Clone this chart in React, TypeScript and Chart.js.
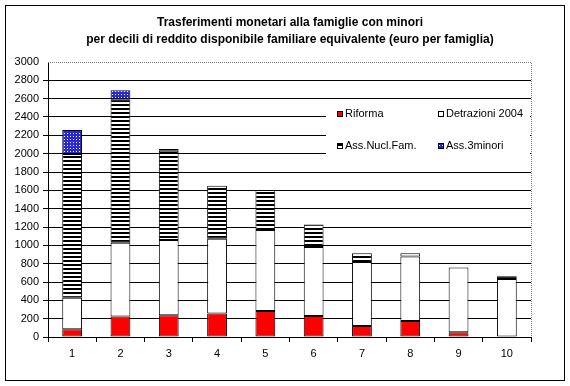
import React, { useEffect, useRef } from "react";
import { Chart, registerables } from "chart.js";

Chart.register(...registerables);

const categories = ["1", "2", "3", "4", "5", "6", "7", "8", "9", "10"];
const riforma = [84, 225, 236, 257, 283, 228, 120, 174, 51, 0];
const detrazioni2004 = [343, 804, 822, 815, 883, 753, 698, 703, 706, 634];
const assNuclFam = [1570, 1565, 975, 577, 439, 247, 95, 36, 0, 29];
const ass3minori = [261, 98, 18, 0, 0, 0, 0, 0, 0, 0];
const titleLines = [
  "Trasferimenti monetari alla famiglie con minori",
  "per decili di reddito disponibile familiare equivalente (euro per famiglia)",
];
const legendLabels = ["Riforma", "Detrazioni 2004", "Ass.Nucl.Fam.", "Ass.3minori"];

const FONT = "'Liberation Sans', Arial, sans-serif";

function makeStripes(): CanvasPattern | string {
  const c = document.createElement("canvas");
  c.width = 4;
  c.height = 4;
  const g = c.getContext("2d");
  if (!g) return "#000";
  g.fillStyle = "#fff";
  g.fillRect(0, 0, 4, 4);
  g.fillStyle = "#000";
  g.fillRect(0, 0, 4, 2);
  return g.createPattern(c, "repeat") || "#000";
}

function makeDots(): CanvasPattern | string {
  const c = document.createElement("canvas");
  c.width = 3;
  c.height = 3;
  const g = c.getContext("2d");
  if (!g) return "#22c";
  g.fillStyle = "#2828d8";
  g.fillRect(0, 0, 3, 3);
  g.fillStyle = "#ffffff";
  g.fillRect(1, 1, 1, 1);
  return g.createPattern(c, "repeat") || "#22c";
}

export default function App() {
  const ref = useRef<HTMLCanvasElement | null>(null);

  useEffect(() => {
    document.body.style.margin = "0";
    const canvas = ref.current;
    if (!canvas) return;
    const stripes = makeStripes();
    const dots = makeDots();
    const fills: any[] = ["#ff0000", "#ffffff", stripes, dots];

    const decor = {
      id: "decor",
      beforeDraw(chart: any) {
        const ctx = chart.ctx;
        ctx.save();
        ctx.fillStyle = "#fff";
        ctx.fillRect(0, 0, chart.width, chart.height);
        ctx.restore();
      },
      afterDatasetsDraw(chart: any) {
        const ctx = chart.ctx;
        const a = chart.chartArea;
        ctx.save();
        // legend box
        ctx.fillStyle = "#fff";
        ctx.fillRect(326, 100, a.right - 326 - 1, 70);
        const items = [
          { x: 337, y: 114 },
          { x: 438, y: 114 },
          { x: 337, y: 146 },
          { x: 438, y: 146 },
        ];
        ctx.font = `11px ${FONT}`;
        ctx.textBaseline = "middle";
        ctx.textAlign = "left";
        items.forEach((it, i) => {
          ctx.fillStyle = fills[i];
          ctx.fillRect(it.x, it.y - 3, 5, 5);
          ctx.strokeStyle = "#000";
          ctx.lineWidth = 1;
          ctx.strokeRect(it.x + 0.5, it.y - 2.5, 5, 5);
          ctx.fillStyle = "#000";
          ctx.fillText(legendLabels[i], it.x + 8, it.y);
        });
        ctx.restore();
      },
      afterDraw(chart: any) {
        const ctx = chart.ctx;
        const a = chart.chartArea;
        ctx.save();
        // plot area dotted border (top and right)
        ctx.strokeStyle = "#808080";
        ctx.lineWidth = 1;
        ctx.setLineDash([1, 1]);
        ctx.beginPath();
        ctx.moveTo(a.left, Math.round(a.top) + 0.5);
        ctx.lineTo(Math.round(a.right) + 0.5, Math.round(a.top) + 0.5);
        ctx.lineTo(Math.round(a.right) + 0.5, a.bottom);
        ctx.stroke();
        ctx.setLineDash([]);
        // outer frame
        ctx.strokeStyle = "#000";
        ctx.strokeRect(5.5, 5.5, 559, 375);
        // title
        ctx.fillStyle = "#000";
        ctx.font = `bold 12px ${FONT}`;
        ctx.textAlign = "center";
        ctx.textBaseline = "middle";
        ctx.fillText(titleLines[0], 290, 23);
        ctx.fillText(titleLines[1], 290, 40);
        ctx.restore();
      },
    };

    const mk = (label: string, data: number[], bg: any) => ({
      label,
      data,
      backgroundColor: bg,
      borderColor: "#000",
      borderWidth: 1,
      borderSkipped: false,
      barPercentage: 0.41,
      categoryPercentage: 1,
    });

    const chart = new Chart(canvas, {
      type: "bar",
      data: {
        labels: categories,
        datasets: [
          mk(legendLabels[0], riforma, fills[0]),
          mk(legendLabels[1], detrazioni2004, fills[1]),
          mk(legendLabels[2], assNuclFam, fills[2]),
          mk(legendLabels[3], ass3minori, fills[3]),
        ] as any,
      },
      options: {
        responsive: false,
        animation: false,
        layout: { padding: { left: 0, top: 62, right: 39, bottom: 0 } },
        plugins: {
          legend: { display: false },
          tooltip: { enabled: false },
          title: { display: false },
        },
        scales: {
          x: {
            stacked: true,
            offset: true,
            grid: {
              offset: true,
              drawOnChartArea: false,
              drawTicks: true,
              tickLength: 5,
              color: "#000",
            },
            border: { color: "#000" },
            ticks: { color: "#000", font: { family: FONT, size: 11 }, padding: 5, maxRotation: 0 },
            afterFit: (s: any) => {
              s.height = 49;
            },
          },
          y: {
            stacked: true,
            min: 0,
            max: 3000,
            ticks: {
              stepSize: 200,
              color: "#000",
              font: { family: FONT, size: 11 },
              padding: 4,
              callback: (v: any) => String(v),
            },
            grid: {
              color: (c: any) => (c.tick && c.tick.value === 3000 ? "rgba(0,0,0,0)" : "#000"),
              tickLength: 5,
            },
            border: { color: "#000" },
            afterFit: (s: any) => {
              s.width = 48;
            },
          },
        },
      } as any,
      plugins: [decor],
    });
    return () => chart.destroy();
  }, []);

  return (
    <canvas
      ref={ref}
      width={570}
      height={386}
      style={{ display: "block", width: 570, height: 386 }}
    />
  );
}
